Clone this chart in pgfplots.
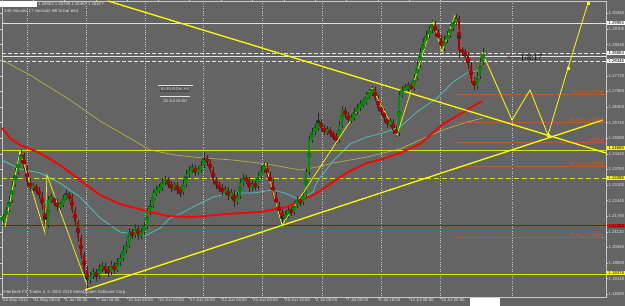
\documentclass[border=0pt]{standalone}
\usepackage{pgfplots}
\pgfplotsset{compat=1.18}
\usepackage{pgfplotstable}
\usepackage{fontspec}
\setmainfont{Liberation Sans}
\newfontfamily\seriffont{Liberation Serif}
\definecolor{bg}{RGB}{100,100,100}
\definecolor{frame}{RGB}{200,200,200}
\definecolor{cgreen}{RGB}{0,145,0}
\definecolor{cred}{RGB}{175,0,0}
\definecolor{wick}{RGB}{40,40,40}
\definecolor{ylw}{RGB}{255,255,0}
\definecolor{hylw}{RGB}{225,225,0}
\definecolor{ma1}{RGB}{255,0,0}
\definecolor{ma2}{RGB}{70,200,200}
\definecolor{ma3}{RGB}{185,175,60}
\definecolor{fib}{RGB}{225,90,30}
\definecolor{lgray}{RGB}{225,225,225}
\newcommand\tf{\fontsize{4.3}{4.6}\selectfont}
\pgfplotstableread{
x o h l c
3 220 214 223 217
6 217 207 219 210
9 210 196 212 200
12 200 182 203 185
15 185 168 187 172
18 172 157 175 160
21 160 150 163 155
24 155 153 171 168
27 168 165 186 182
30 182 178 191 188
33 188 183 192 186
36 186 184 194 190
39 190 187 199 195
42 195 192 210 205
45 205 203 233 225
48 225 196 228 200
51 200 194 203 198
54 198 195 206 202
57 202 199 211 207
60 207 202 210 205
63 205 195 207 198
66 198 190 200 195
69 195 192 201 197
72 197 194 213 210
75 210 207 226 222
78 222 220 242 238
81 238 235 259 255
84 255 252 274 270
87 270 266 288 280
90 280 272 284 276
93 276 268 279 272
96 272 269 281 276
99 276 264 279 268
102 268 262 272 266
105 266 263 274 270
108 270 266 277 272
111 272 261 275 265
114 265 262 274 270
117 270 258 272 262
120 262 254 266 258
123 258 246 261 250
126 250 241 253 245
129 245 228 248 232
132 232 229 239 235
135 235 224 238 228
138 228 225 240 236
141 236 228 239 232
144 232 222 235 226
147 226 208 229 212
150 212 200 215 205
153 205 190 208 193
156 193 186 196 190
159 190 184 193 188
162 188 178 191 182
165 182 176 185 180
168 180 177 188 184
171 184 181 192 188
174 188 182 191 185
177 185 182 194 190
180 190 187 197 192
183 192 180 195 184
186 184 170 187 175
189 175 166 178 170
192 170 164 173 168
195 168 165 176 172
198 172 166 175 170
201 170 161 173 165
204 165 152 168 158
207 158 155 166 162
210 162 159 173 170
213 170 167 184 180
216 180 177 189 185
219 185 182 192 188
222 188 184 196 192
225 192 186 195 190
228 190 187 200 196
231 196 189 199 193
234 193 190 207 202
237 202 192 205 196
240 196 179 199 183
243 183 174 186 178
246 178 175 184 180
249 180 177 192 188
252 188 180 191 184
255 184 181 190 186
258 186 172 189 176
261 176 166 179 170
264 170 162 173 166
267 166 163 178 175
270 175 172 186 182
273 182 179 198 195
276 195 192 209 205
279 205 202 216 212
282 212 209 225 218
285 218 211 221 215
288 215 206 218 210
291 210 207 216 212
294 212 201 215 205
297 205 196 208 200
300 200 197 206 202
303 202 191 205 195
306 195 168 198 172
309 172 136 175 140
312 140 128 143 132
315 132 124 135 128
318 128 113 131 122
321 122 119 131 128
324 128 125 135 132
327 132 126 135 130
330 130 127 137 134
333 134 131 140 136
336 136 133 144 140
339 140 121 143 125
342 125 106 128 110
345 110 107 118 115
348 115 112 124 120
351 120 114 123 118
354 118 108 121 112
357 112 104 115 108
360 108 100 111 104
363 104 98 107 102
366 102 92 105 96
369 96 89 99 93
372 93 86 96 90
375 90 87 101 98
378 98 95 111 108
381 108 104 115 112
384 112 109 122 118
387 118 115 128 124
390 124 118 127 122
393 122 119 134 130
396 130 126 137 133
399 133 91 136 95
402 95 86 98 90
405 90 84 93 88
408 88 82 91 86
411 86 83 92 88
414 88 74 91 78
417 78 61 81 65
420 65 48 68 52
423 52 38 55 42
426 42 31 45 35
429 35 26 38 30
432 30 20 33 24
435 24 21 36 32
438 32 29 42 38
441 38 35 52 48
444 48 36 51 40
447 40 31 43 35
450 35 24 38 28
453 28 18 31 22
456 22 14 25 18
459 18 16 58 50
462 50 46 56 52
465 52 49 60 55
468 55 52 70 65
471 65 62 84 80
474 80 77 90 86
477 86 72 89 76
480 76 58 79 62
483 62 48 65 52
}\candles
\begin{document}
\begin{tikzpicture}
\useasboundingbox (0,0) rectangle (625bp,306bp);
\fill[bg] (0,0) rectangle (625bp,306bp);
\begin{axis}[at={(2bp,9bp)}, anchor=south west, scale only axis,
  width=604bp, height=296bp, xmin=2, xmax=606, ymin=1, ymax=297,
  y dir=reverse, clip=false,
  axis line style={draw=frame, line width=0.7bp},
  ytick={13.4,29,44.6,60.2,75.8,91.4,107,122.6,138.2,153.8,169.4,185,200.6,216.2,231.8,247.4,263,278.6,294.2},
  yticklabels={1.30360,1.29700,1.29040,1.28380,1.27720,1.27060,1.26400,1.25740,1.25080,1.24420,1.23760,1.23100,1.22440,1.21780,1.21120,1.20460,1.19800,1.19140,1.18480},
  yticklabel pos=right,
  xtick={2,33,64,96,127,158,189,221,252,284,315,346,378,409,440},
  xticklabels={26 May 2010,31 May 08:00,3 Jun 00:00,7 Jun 16:00,10 Jun 08:00,15 Jun 00:00,17 Jun 16:00,22 Jun 08:00,25 Jun 00:00,29 Jun 16:00,2 Jul 08:00,7 Jul 00:00,9 Jul 16:00,14 Jul 08:00,19 Jul 00:00},
  xticklabel style={anchor=north west, xshift=0.5bp, yshift=1bp, font=\tf, text=lgray, inner sep=0.5bp},
  yticklabel style={font=\tf, text=lgray, inner sep=0.5bp, xshift=0.5bp},
  tick align=outside, major tick length=1.5bp,
  tick style={draw=frame, line width=0.5bp},
  extra x ticks={27,86,145,203,262,322,381,440,512},
  extra x tick labels={},
  extra x tick style={grid=major, major tick length=0pt, major grid style={draw=frame, dotted, line width=0.6bp}},
]
% moving averages
\addplot[ma3, line width=0.7bp] coordinates {(2,60)(30,75)(70,100)(100,121)(133,140)(150,150)(175,155)(203,158)(233,160)(267,164)(300,170)(317,167)(333,163)(350,160)(367,157)(383,153)(400,149)(420,140)(443,130)(467,122)(483,118)};
\addplot[ma2, line width=0.7bp] coordinates {(2,160)(20,169)(40,173)(60,183)(80,197)(100,218)(120,232)(140,235)(147,235)(160,228)(170,218)(180,214)(193,207)(213,197)(233,193)(253,193)(273,190)(285,193)(300,200)(313,192)(317,182)(333,161)(350,144)(367,137)(383,133)(400,127)(417,112)(437,98)(453,82)(467,73)(480,70)};
% horizontal levels
\addplot[lgray, line width=0.7bp] coordinates {(2,23)(606,23)};
\addplot[lgray, line width=0.7bp, dash pattern=on 4bp off 2bp] coordinates {(2,53)(606,53)};
\addplot[lgray, line width=0.6bp] coordinates {(2,56)(606,56)};
\addplot[lgray, line width=0.7bp, dash pattern=on 4bp off 2bp] coordinates {(2,61)(606,61)};
\addplot[hylw, line width=0.8bp] coordinates {(2,150)(606,150)};
\addplot[hylw, line width=0.8bp, dash pattern=on 5bp off 3bp] coordinates {(2,178)(606,178)};
\addplot[cred, line width=0.6bp] coordinates {(2,225)(606,225)};
\addplot[hylw, line width=0.8bp] coordinates {(2,274)(606,274)};
% fibonacci expansion levels
\addplot[fib, line width=0.6bp, densely dotted] coordinates {(455,94)(606,94)};
\addplot[fib, line width=0.6bp, densely dotted] coordinates {(455,122)(606,122)};
\addplot[fib, line width=0.6bp, densely dotted] coordinates {(455,142)(606,142)};
\addplot[fib, line width=0.6bp, densely dotted] coordinates {(455,166)(606,166)};
\addplot[fib, line width=0.6bp, densely dotted] coordinates {(457,237)(606,237)};
% candles: wicks
\addplot[color=wick, only marks, mark=none, forget plot,
  error bars/.cd, y dir=both, y explicit, error mark=none,
  error bar style={line width=0.8bp, draw=wick}]
  table[x=x, y expr={(\thisrow{h}+\thisrow{l})/2}, y error expr={abs(\thisrow{l}-\thisrow{h})/2}] {\candles};
% up bodies
\addplot[color=cgreen, only marks, mark=none, forget plot,
  restrict expr to domain={\thisrow{o}-\thisrow{c}}{0.5:1000},
  error bars/.cd, y dir=both, y explicit, error mark=none,
  error bar style={line width=1.5bp, draw=cgreen}]
  table[x=x, y expr={(\thisrow{o}+\thisrow{c})/2}, y error expr={abs(\thisrow{o}-\thisrow{c})/2}] {\candles};
% down bodies
\addplot[color=cred, only marks, mark=none, forget plot,
  restrict expr to domain={\thisrow{c}-\thisrow{o}}{0.5:1000},
  error bars/.cd, y dir=both, y explicit, error mark=none,
  error bar style={line width=1.5bp, draw=cred}]
  table[x=x, y expr={(\thisrow{o}+\thisrow{c})/2}, y error expr={abs(\thisrow{o}-\thisrow{c})/2}] {\candles};
% red MA on top
\addplot[ma1, line width=1.8bp] coordinates {(2,128)(10,138)(20,145)(40,153)(60,165)(80,180)(100,195)(120,204)(143,210)(167,216)(193,217)(227,214)(260,212)(287,207)(300,201)(317,193)(333,182)(350,171)(367,163)(383,159)(400,153)(420,144)(443,124)(467,110)(482,101)};
% trend lines
\addplot[ylw, line width=1.3bp] coordinates {(108,1)(606,153)};
\addplot[ylw, line width=1.3bp] coordinates {(85,290)(603,120)};
% zigzag
\addplot[ylw, line width=0.7bp] coordinates {(5,227)(20,151)(45,233)(47,175)(87,285)};
\addplot[ylw, line width=0.7bp] coordinates {(265,163)(282,225)(372,88)(397,135)(433,22)(442,52)(455,15)};
\addplot[fib, line width=0.7bp, densely dashed] coordinates {(455,15)(472,87)(482,52)};
% projection
\addplot[ylw, line width=0.8bp] coordinates {(482,52)(512,120)(530,90)(548,135)(568,68)(588,3)};
\addplot[ylw, only marks, mark=square*, mark size=1.1bp] coordinates {(548,135)(568,68)(588,3)};
% fib labels
\node[anchor=south east, font=\tf, text=fib, inner sep=0.3bp] at (axis cs:604,94) {FE 61.8 1.27036};
\node[anchor=south east, font=\tf, text=fib, inner sep=0.3bp] at (axis cs:604,122) {FE 100.0 1.25765};
\node[anchor=south east, font=\tf, text=fib, inner sep=0.3bp] at (axis cs:604,142) {1.24919};
\node[anchor=south east, font=\tf, text=fib, inner sep=0.3bp] at (axis cs:604,166) {FE 161.8 1.23904};
\node[anchor=south east, font=\tf, text=fib, inner sep=0.3bp] at (axis cs:604,237) {FE 261.8 1.20900};
% price boxes on the right scale
\node[anchor=west, fill=white, text=black, font=\tf, inner sep=0.5bp, minimum width=18bp] at (axis cs:607,23) {1.29955};
\node[anchor=west, fill=white, text=black, font=\tf, inner sep=0.5bp, minimum width=18bp] at (axis cs:607,53) {1.28684};
\node[anchor=west, fill=white, text=black, font=\tf, inner sep=0.5bp, minimum width=18bp] at (axis cs:607,61) {1.28346};
\node[anchor=west, fill=ylw, text=black, font=\tf, inner sep=0.5bp, minimum width=18bp] at (axis cs:607,148) {1.24665};
\node[anchor=west, fill=ylw, text=black, font=\tf, inner sep=0.5bp, minimum width=18bp] at (axis cs:607,178) {1.23396};
\node[anchor=west, fill=red, text=black, font=\tf, inner sep=0.5bp, minimum width=18bp] at (axis cs:607,226) {1.21366};
\node[anchor=west, fill=ylw, text=black, font=\tf, inner sep=0.5bp, minimum width=18bp] at (axis cs:607,273) {1.19378};
% header texts
\fill[white] (axis cs:0,1.5) rectangle (axis cs:37,7.5);
\node[anchor=west, font=\tf, text=lgray, inner sep=0pt] at (axis cs:38,4.5) {1.26853 1.26759 1.26467 1.26677};
\node[anchor=west, font=\tf, text=lgray, inner sep=0pt] at (axis cs:4,10.5) {145 minutes 17 seconds left to bar end};
% object label
\draw[lgray, line width=0.5bp] (axis cs:158,85) -- (axis cs:193,85);
\node[font=\tf, text=lgray, fill=bg!80!black, inner sep=0.8bp] at (axis cs:175,89) {EURUSDm,H4};
\draw[lgray, line width=0.5bp] (axis cs:160,96.5) -- (axis cs:190,96.5);
\node[font=\tf, text=lgray, inner sep=0pt] at (axis cs:175,100.5) {25 Jul 16:00};
\node[anchor=west, font=\seriffont\fontsize{8.5}{9}\selectfont, text=black, inner sep=0pt] at (axis cs:507,58) {<\textemdash1/8:17};
% copyright
\node[anchor=west, font=\tf, text=lgray, inner sep=0pt] at (axis cs:3,292) {Interbank FX Trader 4, \textcopyright\ 2001-2010 MetaQuotes Software Corp.};
\fill[white] (axis cs:470,298) rectangle (axis cs:500,306);
\end{axis}
\end{tikzpicture}
\end{document}
